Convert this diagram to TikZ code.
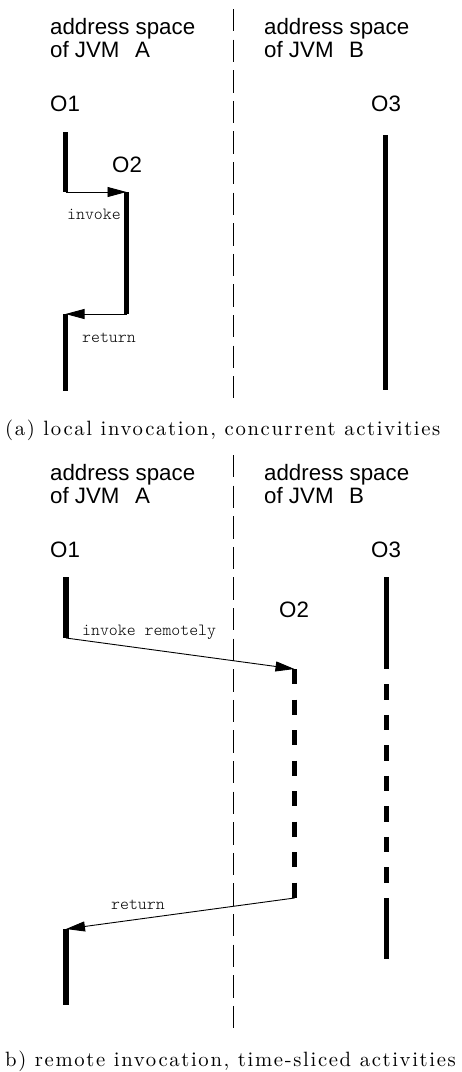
\documentclass[tikz,border=0pt]{standalone}
\usepackage{fontspec}
\setsansfont{Liberation Sans}
\newfontfamily\msgfont{lmmonolt10-regular.otf}
\newfontfamily\capfont{lmroman10-regular.otf}[LetterSpace=8]
\usetikzlibrary{arrows.meta}

\tikzset{
  lbl/.style={font=\sffamily\fontsize{22.3}{23}\selectfont, anchor=base west, inner sep=0pt, align=left},
  msg/.style={font=\msgfont\fontsize{17}{18}\selectfont, anchor=base west, inner sep=0pt},
  capt/.style={font=\capfont\fontsize{20.7}{22}\selectfont, anchor=base west, inner sep=0pt},
  life/.style={line width=5.5pt},
  call/.style={line width=0.9pt, -{Triangle[length=19pt,width=10pt]}},
  border/.style={line width=0.9pt, dash pattern=on 22.3pt off 8.3pt},
}

\begin{document}
\begin{tikzpicture}[x=1pt,y=-1pt]
\useasboundingbox (0,0) rectangle (461,1072);

% Headers of both panels (base = second line)
\foreach \dy/\p in {0/a,446/b} {
    \node[lbl] (jvmA\p) at (50,57+\dy) {address space\\of JVM\hspace{0.7em}A};
    \node[lbl] (jvmB\p) at (264,57+\dy) {address space\\of JVM\hspace{0.7em}B};
    \node[lbl] (objA\p) at (50,111+\dy) {O1};
    \node[lbl] (objC\p) at (371,111+\dy) {O3};
}

% Borders between the address spaces
\draw[border] (233,9) -- (233,398);
\draw[border] (233,455) -- (233,1028);

% (a) local invocation
\node[lbl] (objBa) at (112,172) {O2};
\coordinate (o1top) at (65.5,132);
\coordinate (callA) at (65.5,192);
\coordinate (o2top) at (126.5,192);
\coordinate (o2end) at (126.5,314);
\coordinate (backA) at (65.5,314);
\coordinate (o1end) at (65.5,391);
\coordinate (o3top) at (385.7,135);
\coordinate (o3end) at (385.7,390);

\draw[life] (o1top) -- (callA);
\draw[life] (o2top) -- (o2end);
\draw[life] (backA) -- (o1end);
\draw[life] (o3top) -- (o3end);

\draw[call] (callA) -- (o2top);
\node[msg] (invA) at (67,219) {invoke};
\draw[call] (o2end) -- (backA);
\node[msg] (retA) at (82,342) {return};

\node[capt] (captA) at (5,435) {(a) local invocation, concurrent activities};

% (b) remote invocation
\node[lbl] (objBb) at (279,617) {O2};
\coordinate (r1top) at (66,577);
\coordinate (callB) at (66,638);
\coordinate (r2top) at (294.5,669);
\coordinate (r2end) at (294.5,898);
\coordinate (backB) at (66,929);
\coordinate (r1end) at (66,1005);

\draw[life] (r1top) -- (callB);
\draw[life, dash pattern=on 15.25pt off 15.25pt] (r2top) -- (r2end);
\draw[life] (backB) -- (r1end);

% O3 gets the slices that O2 leaves free
\draw[life] (386.7,577) -- (386.7,669);
\foreach \k in {0,...,6} {
    \draw[life] (386.7,684.25+30.5*\k) -- ++(0,15.25);
}
\draw[life] (386.7,898) -- (386.7,959);

\draw[call] (callB) -- (r2top);
\node[msg] (invB) at (82,635) {invoke remotely};
\draw[call] (r2end) -- (backB);
\node[msg] (retB) at (111,909) {return};

\node[capt] (captB) at (5,1066) {b) remote invocation, time-sliced activities};
\end{tikzpicture}
\end{document}
